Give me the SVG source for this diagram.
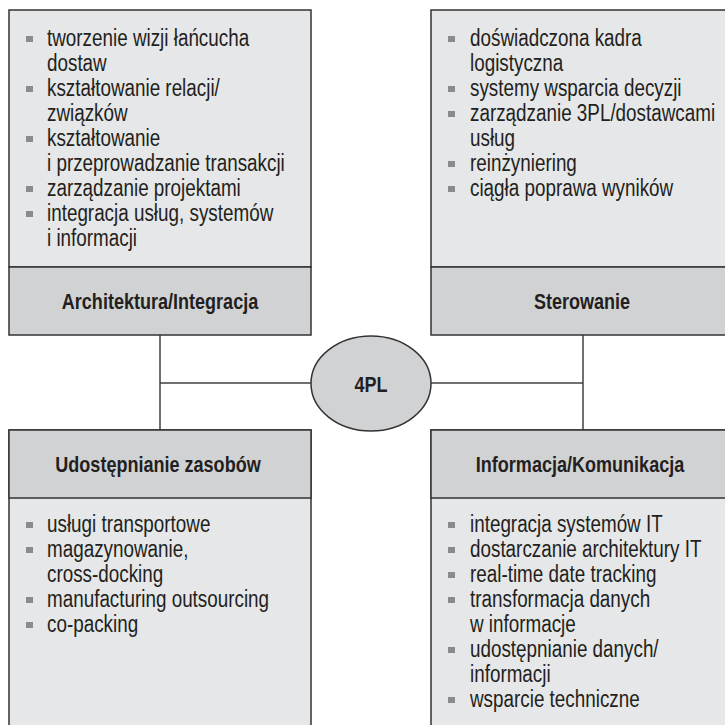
<svg xmlns="http://www.w3.org/2000/svg" width="725" height="725" viewBox="0 0 725 725">
  <style>
    .body { fill: #e6e7e8; stroke: #333333; stroke-width: 1.5; }
    .head { fill: #d1d2d4; stroke: #333333; stroke-width: 1.5; }
    .item { font-family: "Liberation Sans", Arial, sans-serif; font-size: 23px; fill: #231f20; }
    .title { font-family: "Liberation Sans", Arial, sans-serif; font-size: 22px; font-weight: bold; fill: #231f20; text-anchor: middle; }
    .bullet { fill: #8a8b8d; }
    .link { stroke: #404040; stroke-width: 1.5; fill: none; }
  </style>
  <defs>
    <rect id="sq" x="0" y="-10" width="7" height="6"/>
  </defs>

  <rect width="725" height="725" fill="#ffffff"/>

  <!-- connectors -->
  <g id="connectors">
    <line class="link" x1="160" y1="335" x2="160" y2="430"/>
    <line class="link" x1="160" y1="383" x2="311" y2="383"/>
    <line class="link" x1="583" y1="335" x2="583" y2="430"/>
    <line class="link" x1="431" y1="383" x2="583" y2="383"/>
  </g>

  <!-- Architektura/Integracja -->
  <g id="architektura">
    <rect class="body" x="9" y="10" width="302" height="257"/>
    <rect class="head" x="9" y="267" width="302" height="68"/>
    <text class="title" transform="translate(160,309) scale(0.82,1)">Architektura/Integracja</text>
    <g class="bullet">
      <use href="#sq" x="26" y="46"/>
      <use href="#sq" x="26" y="96"/>
      <use href="#sq" x="26" y="146"/>
      <use href="#sq" x="26" y="196"/>
      <use href="#sq" x="26" y="221"/>
    </g>
    <text class="item" transform="translate(47,0) scale(0.82,1)">
      <tspan x="0" y="46">tworzenie wizji łańcucha</tspan>
      <tspan x="0" y="71">dostaw</tspan>
      <tspan x="0" y="96">kształtowanie relacji/</tspan>
      <tspan x="0" y="121">związków</tspan>
      <tspan x="0" y="146">kształtowanie</tspan>
      <tspan x="0" y="171">i przeprowadzanie transakcji</tspan>
      <tspan x="0" y="196">zarządzanie projektami</tspan>
      <tspan x="0" y="221">integracja usług, systemów</tspan>
      <tspan x="0" y="246">i informacji</tspan>
    </text>
  </g>

  <!-- Sterowanie -->
  <g id="sterowanie">
    <rect class="body" x="431" y="10" width="304" height="257"/>
    <rect class="head" x="431" y="267" width="304" height="68"/>
    <text class="title" transform="translate(582,309) scale(0.82,1)">Sterowanie</text>
    <g class="bullet">
      <use href="#sq" x="448" y="46"/>
      <use href="#sq" x="448" y="96"/>
      <use href="#sq" x="448" y="121"/>
      <use href="#sq" x="448" y="171"/>
      <use href="#sq" x="448" y="196"/>
    </g>
    <text class="item" transform="translate(470,0) scale(0.82,1)">
      <tspan x="0" y="46">doświadczona kadra</tspan>
      <tspan x="0" y="71">logistyczna</tspan>
      <tspan x="0" y="96">systemy wsparcia decyzji</tspan>
      <tspan x="0" y="121">zarządzanie 3PL/dostawcami</tspan>
      <tspan x="0" y="146">usług</tspan>
      <tspan x="0" y="171">reinżyniering</tspan>
      <tspan x="0" y="196">ciągła poprawa wyników</tspan>
    </text>
  </g>

  <!-- Udostępnianie zasobów -->
  <g id="zasoby">
    <rect class="body" x="9" y="430" width="302" height="305"/>
    <rect class="head" x="9" y="430" width="302" height="68"/>
    <text class="title" transform="translate(158,472) scale(0.82,1)">Udostępnianie zasobów</text>
    <g class="bullet">
      <use href="#sq" x="26" y="532"/>
      <use href="#sq" x="26" y="557"/>
      <use href="#sq" x="26" y="607"/>
      <use href="#sq" x="26" y="632"/>
    </g>
    <text class="item" transform="translate(47,0) scale(0.82,1)">
      <tspan x="0" y="532">usługi transportowe</tspan>
      <tspan x="0" y="557">magazynowanie,</tspan>
      <tspan x="0" y="582">cross-docking</tspan>
      <tspan x="0" y="607">manufacturing outsourcing</tspan>
      <tspan x="0" y="632">co-packing</tspan>
    </text>
  </g>

  <!-- Informacja/Komunikacja -->
  <g id="informacja">
    <rect class="body" x="431" y="430" width="304" height="305"/>
    <rect class="head" x="431" y="430" width="304" height="68"/>
    <text class="title" transform="translate(580,472) scale(0.82,1)">Informacja/Komunikacja</text>
    <g class="bullet">
      <use href="#sq" x="448" y="532"/>
      <use href="#sq" x="448" y="557"/>
      <use href="#sq" x="448" y="582"/>
      <use href="#sq" x="448" y="607"/>
      <use href="#sq" x="448" y="657"/>
      <use href="#sq" x="448" y="707"/>
    </g>
    <text class="item" transform="translate(470,0) scale(0.82,1)">
      <tspan x="0" y="532">integracja systemów IT</tspan>
      <tspan x="0" y="557">dostarczanie architektury IT</tspan>
      <tspan x="0" y="582">real-time date tracking</tspan>
      <tspan x="0" y="607">transformacja danych</tspan>
      <tspan x="0" y="632">w informacje</tspan>
      <tspan x="0" y="657">udostępnianie danych/</tspan>
      <tspan x="0" y="682">informacji</tspan>
      <tspan x="0" y="707">wsparcie techniczne</tspan>
    </text>
  </g>

  <!-- 4PL hub -->
  <g id="hub">
    <ellipse cx="371" cy="383.5" rx="60" ry="47.5" fill="#d1d2d4" stroke="#333333" stroke-width="1.5"/>
    <text class="title" transform="translate(371,391.5) scale(0.82,1)">4PL</text>
  </g>
</svg>
